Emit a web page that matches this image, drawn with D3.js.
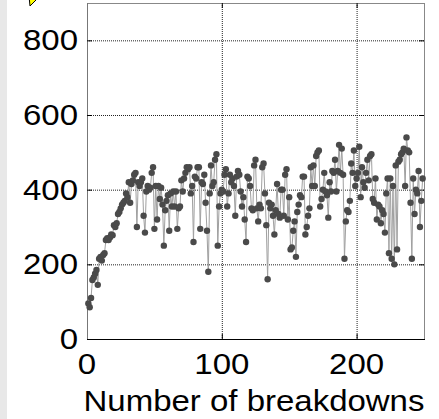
<!DOCTYPE html>
<html>
<head>
<meta charset="utf-8">
<script src="https://cdn.jsdelivr.net/npm/d3@7"></script>
<style>
  html, body { margin: 0; padding: 0; background: #fff; }
  svg { display: block; }
  text { font-family: "Liberation Sans", Arial, sans-serif; fill: #000; }
</style>
</head>
<body>
<svg id="chart" width="439" height="419"></svg>
<script>
// ---- data ----
const xTicks = [0, 100, 200];
const yTicks = [0, 200, 400, 600, 800];
const xLabel = "Number of breakdowns";
// value per breakdown (x = 1, 2, 3, ...)
const values = [
  95, 85, 110, 158, 165, 175, 185, 145, 215, 220,
  210, 225, 230, 265, 270, 265, 272, 280, 278, 305,
  300, 310, 335, 340, 350, 360, 365, 370, 390, 380,
  420, 365, 415, 425, 440, 445, 300, 420, 410, 420,
  430, 330, 285, 395, 410, 400, 405, 445, 460, 295,
  410, 320, 410, 375, 405, 360, 250, 345, 370, 385,
  290, 390, 355, 395, 355, 395, 295, 350, 355, 425,
  395, 430, 445, 460, 455, 460, 390, 410, 260, 435,
  430, 460, 460, 295, 420, 415, 440, 365, 290, 180,
  390, 465, 410, 420, 480, 495, 250, 355, 390, 400,
  395, 440, 455, 355, 390, 440, 420, 430, 410, 330,
  435, 450, 440, 395, 355, 380, 320, 260, 435, 430,
  410, 350, 345, 465, 480, 350, 315, 360, 350, 460,
  470, 390, 305, 160, 365, 350, 360, 330, 280, 345,
  415, 335, 325, 400, 400, 330, 440, 455, 320, 380,
  240, 245, 290, 315, 220, 340, 360, 385, 380, 435,
  435, 280, 300, 330, 350, 460, 410, 465, 410, 490,
  500, 505, 355, 375, 400, 445, 395, 385, 325, 420,
  395, 450, 445, 480, 395, 450, 520, 445, 510, 440,
  215, 315, 345, 340, 370, 470, 445, 505, 410, 430,
  445, 515, 380, 460, 420, 405, 445, 480, 425, 490,
  495, 375, 365, 430, 320, 360, 355, 310, 345, 335,
  285, 390, 430, 230, 430, 215, 410, 200, 465, 240,
  475, 480, 495, 500, 510, 410, 540, 505, 500, 365,
  215, 430, 335, 400, 390, 450, 300, 370, 430
];

// ---- layout ----
const svg = d3.select("#chart");
const W = 439, H = 419;
const m = { left: 87, right: 424, top: 3, bottom: 339 };

const x = d3.scaleLinear().domain([0, 250]).range([m.left, m.right]);
const y = d3.scaleLinear().domain([0, 900]).range([m.bottom, m.top]);

// left gray strip
svg.append("rect").attr("x", 0).attr("y", 0).attr("width", 7).attr("height", H).attr("fill", "#e8e8e8");

// partial yellow marker top-left
svg.append("path")
  .attr("d", "M29,-4 L40,-4 L30,6 Z")
  .attr("fill", "#ffff00").attr("stroke", "#000").attr("stroke-width", 1);

// grid (dotted)
const grid = svg.append("g");
grid.selectAll("line.gy").data(yTicks.filter(d => d > 0)).join("line")
  .attr("x1", m.left).attr("x2", m.right)
  .attr("y1", d => y(d) + 0.5).attr("y2", d => y(d) + 0.5)
  .attr("stroke", "#222").attr("stroke-width", 1).attr("stroke-dasharray", "1,1");
grid.selectAll("line.gx").data(xTicks.filter(d => d > 0)).join("line")
  .attr("y1", m.top).attr("y2", m.bottom)
  .attr("x1", d => x(d) + 0.5).attr("x2", d => x(d) + 0.5)
  .attr("stroke", "#222").attr("stroke-width", 1).attr("stroke-dasharray", "1,1");

// frame
svg.append("line").attr("x1", m.left).attr("x2", m.right).attr("y1", m.top + 0.5).attr("y2", m.top + 0.5).attr("stroke", "#888");
svg.append("line").attr("x1", m.right + 0.5).attr("x2", m.right + 0.5).attr("y1", m.top).attr("y2", m.bottom).attr("stroke", "#888");
svg.append("line").attr("x1", m.left + 0.5).attr("x2", m.left + 0.5).attr("y1", m.top).attr("y2", m.bottom).attr("stroke", "#777");
svg.append("line").attr("x1", m.left).attr("x2", m.right + 1).attr("y1", m.bottom + 0.5).attr("y2", m.bottom + 0.5).attr("stroke", "#000");

// inward ticks
const tk = 5;
yTicks.filter(d => d > 0).forEach(d => {
  svg.append("line").attr("x1", m.left).attr("x2", m.left + tk).attr("y1", y(d) + 0.5).attr("y2", y(d) + 0.5).attr("stroke", "#000");
  svg.append("line").attr("x1", m.right - tk).attr("x2", m.right).attr("y1", y(d) + 0.5).attr("y2", y(d) + 0.5).attr("stroke", "#000");
});
xTicks.filter(d => d > 0).forEach(d => {
  svg.append("line").attr("y1", m.bottom).attr("y2", m.bottom - tk).attr("x1", x(d) + 0.5).attr("x2", x(d) + 0.5).attr("stroke", "#000");
  svg.append("line").attr("y1", m.top).attr("y2", m.top + tk).attr("x1", x(d) + 0.5).attr("x2", x(d) + 0.5).attr("stroke", "#000");
});

// data line + markers
const pts = values.map((v, i) => [i + 1, v]);
svg.append("path")
  .datum(pts)
  .attr("fill", "none")
  .attr("stroke", "#a0a0a0")
  .attr("stroke-width", 1)
  .attr("d", d3.line().x(d => x(d[0])).y(d => y(d[1])));
svg.append("g").selectAll("circle").data(pts).join("circle")
  .attr("cx", d => x(d[0])).attr("cy", d => y(d[1]))
  .attr("r", 3.2).attr("fill", "#4a4a4a");

// tick labels (font slightly squashed vertically like the original)
const fs = 33, sy = 0.87;
yTicks.forEach(d => {
  svg.append("text")
    .attr("transform", `translate(78,${y(d) + 10}) scale(1,${sy})`)
    .attr("text-anchor", "end")
    .attr("font-size", fs)
    .text(d);
});
xTicks.forEach(d => {
  svg.append("text")
    .attr("transform", `translate(${x(d)},374) scale(1,${sy})`)
    .attr("text-anchor", "middle")
    .attr("font-size", fs)
    .text(d);
});
svg.append("text")
  .attr("transform", `translate(254,411) scale(1,${sy})`)
  .attr("text-anchor", "middle")
  .attr("font-size", fs)
  .text(xLabel);
</script>
</body>
</html>
